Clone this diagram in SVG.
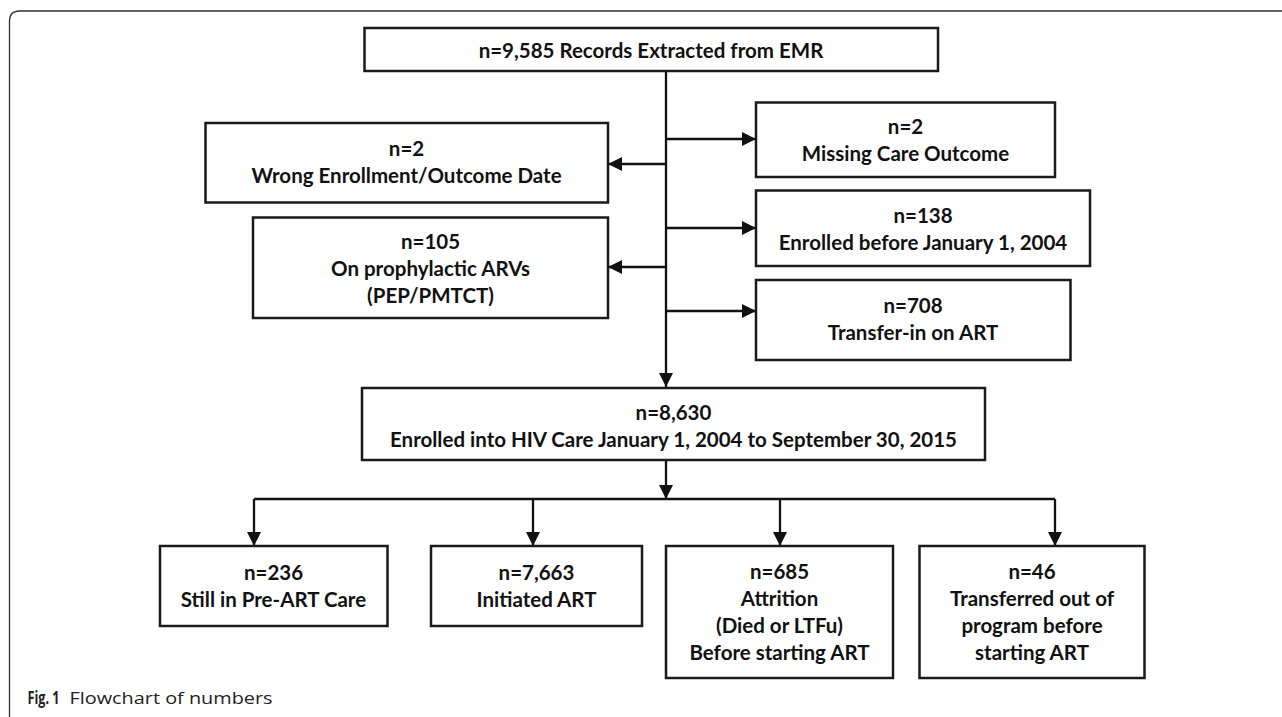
<svg xmlns="http://www.w3.org/2000/svg" width="1282" height="717" viewBox="0 0 1282 717">
<style>
.box{fill:#fff;stroke:#1a1a1a;stroke-width:2.5}
.t{font-family:Lato,"Liberation Sans",sans-serif;font-weight:bold;font-size:20.5px;fill:#111;text-anchor:middle}
.ln{fill:none;stroke:#111;stroke-width:2.3}
.cap{font-family:"Open Sans","Liberation Sans",sans-serif;font-size:17px;fill:#222}
</style>
<defs>
<marker id="ah" markerUnits="userSpaceOnUse" markerWidth="15" markerHeight="14" refX="14" refY="7" orient="auto">
<path d="M0,0 L14,7 L0,14 z" fill="#111"/>
</marker>
</defs>
<rect width="1282" height="717" fill="#fff"/>
<path d="M9.5 717 V21 Q9.5 11 19.5 11 H1282" fill="none" stroke="#333" stroke-width="1.3"/>
<g id="connectors">
<path class="ln" d="M666 71 V387" marker-end="url(#ah)"/>
<path class="ln" d="M666 139 H756" marker-end="url(#ah)"/>
<path class="ln" d="M666 228 H756" marker-end="url(#ah)"/>
<path class="ln" d="M666 311 H756" marker-end="url(#ah)"/>
<path class="ln" d="M666 164 H608" marker-end="url(#ah)"/>
<path class="ln" d="M666 267 H608" marker-end="url(#ah)"/>
<path class="ln" d="M666 460 V499" marker-end="url(#ah)"/>
<path class="ln" d="M254 499 H1055"/>
<path class="ln" d="M254 499 V546" marker-end="url(#ah)"/>
<path class="ln" d="M533 499 V546" marker-end="url(#ah)"/>
<path class="ln" d="M780 499 V546" marker-end="url(#ah)"/>
<path class="ln" d="M1055 499 V546" marker-end="url(#ah)"/>
</g>
<g id="n_records">
<rect class="box" x="364.5" y="28" width="573.5" height="43"/>
<text class="t" x="651" y="58">n=9,585 Records Extracted from EMR</text>
</g>
<g id="n_wrong">
<rect class="box" x="205.5" y="123" width="402.5" height="79.5"/>
<text class="t" x="406.5" y="156">n=2</text>
<text class="t" x="406.5" y="183">Wrong Enrollment/Outcome Date</text>
</g>
<g id="n_prophylactic">
<rect class="box" x="253" y="217.5" width="355" height="100.5"/>
<text class="t" x="430.5" y="249">n=105</text>
<text class="t" x="430.5" y="276">On prophylactic ARVs</text>
<text class="t" x="430.5" y="303">(PEP/PMTCT)</text>
</g>
<g id="n_missing">
<rect class="box" x="756" y="102.5" width="299" height="74.5"/>
<text class="t" x="905.5" y="134">n=2</text>
<text class="t" x="905.5" y="161">Missing Care Outcome</text>
</g>
<g id="n_before2004">
<rect class="box" x="756" y="190.5" width="334" height="75.5"/>
<text class="t" x="923" y="223">n=138</text>
<text class="t" x="923" y="250">Enrolled before January 1, 2004</text>
</g>
<g id="n_transfer_in">
<rect class="box" x="756" y="280" width="314.5" height="80"/>
<text class="t" x="913" y="312.5">n=708</text>
<text class="t" x="913" y="339.5">Transfer-in on ART</text>
</g>
<g id="n_enrolled">
<rect class="box" x="362" y="388" width="623" height="72"/>
<text class="t" x="673.5" y="419.5">n=8,630</text>
<text class="t" x="673.5" y="446.5">Enrolled into HIV Care January 1, 2004 to September 30, 2015</text>
</g>
<g id="n_preart">
<rect class="box" x="160" y="546" width="227.5" height="80"/>
<text class="t" x="273.5" y="579.5">n=236</text>
<text class="t" x="273.5" y="606.5">Still in Pre-ART Care</text>
</g>
<g id="n_initiated">
<rect class="box" x="431" y="546" width="211" height="80"/>
<text class="t" x="536.5" y="579.5">n=7,663</text>
<text class="t" x="536.5" y="606.5">Initiated ART</text>
</g>
<g id="n_attrition">
<rect class="box" x="666" y="546" width="227" height="132"/>
<text class="t" x="779.5" y="579">n=685</text>
<text class="t" x="779.5" y="606">Attrition</text>
<text class="t" x="779.5" y="633">(Died or LTFu)</text>
<text class="t" x="779.5" y="660">Before starting ART</text>
</g>
<g id="n_transfer_out">
<rect class="box" x="919.5" y="546" width="225" height="132"/>
<text class="t" x="1032" y="579">n=46</text>
<text class="t" x="1032" y="606">Transferred out of</text>
<text class="t" x="1032" y="633">program before</text>
<text class="t" x="1032" y="660">starting ART</text>
</g>
<text class="cap" x="27.5" y="704" font-weight="bold" textLength="32" lengthAdjust="spacingAndGlyphs">Fig. 1</text>
<text class="cap" x="69.5" y="704" textLength="203" lengthAdjust="spacingAndGlyphs">Flowchart of numbers</text>
</svg>
